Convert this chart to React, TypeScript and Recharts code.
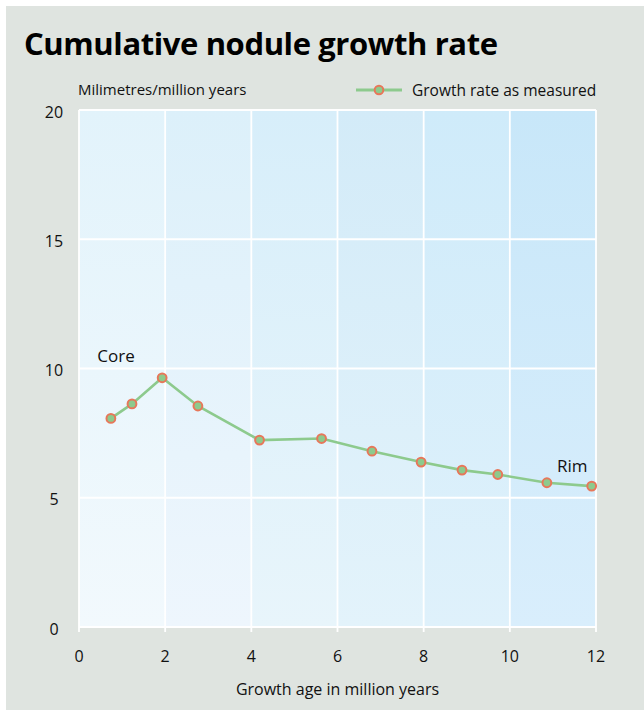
import React from 'react';
import { LineChart, Line, XAxis, YAxis, CartesianGrid, ReferenceArea, ReferenceDot, Label } from 'recharts';

// growth age (million years) and measured growth rate (mm / million years)
const ages = [0.74, 1.23, 1.93, 2.76, 4.19, 5.63, 6.8, 7.94, 8.89, 9.72, 10.86, 11.9];
const rates = [8.07, 8.63, 9.64, 8.55, 7.23, 7.29, 6.8, 6.38, 6.07, 5.9, 5.58, 5.45];

const xTicks = [0, 2, 4, 6, 8, 10, 12];
const yTicks = [0, 5, 10, 15, 20];

// background bands, one per 2 million years
const bandStarts = [0, 2, 4, 6, 8, 10];
const bandEnds = [2, 4, 6, 8, 10, 12];

const annotations = [
    { x: 0.86, y: 10.5, text: 'Core' },
    { x: 11.45, y: 6.23, text: 'Rim' },
];

const bandColors = [
    ['#e2f3fb', '#f2f9fd'],
    ['#dcf0fa', '#eef6fd'],
    ['#d7eefa', '#e8f5fb'],
    ['#d3ebf8', '#e3f3fb'],
    ['#cfebfa', '#dff1fb'],
    ['#c8e7f9', '#d9eefc'],
];

const data = ages.map((a, i) => ({ age: a, rate: rates[i] }));

const FONT = '"Open Sans", sans-serif';
const LINE = '#8dca8d';
const DOT = '#e7775a';

const LegendBox = () => (
    <div style={{ position: 'absolute', left: 349, top: 75, display: 'flex', alignItems: 'center', fontFamily: FONT, fontSize: 15.5, lineHeight: '18px', color: '#111', whiteSpace: 'nowrap' }}>
        <svg width={48} height={12} style={{ marginRight: 9 }}>
            <line x1={1} y1={6} x2={47} y2={6} stroke={LINE} strokeWidth={3} />
            <circle cx={24} cy={6} r={4.3} fill={LINE} stroke={DOT} strokeWidth={2} />
        </svg>
        <span>Growth rate as measured</span>
    </div>
);

export default function App() {
    return (
        <div style={{ position: 'absolute', left: 0, top: 0, width: 644, height: 710, background: '#fff' }}>
            <div style={{ position: 'absolute', left: 6, top: 6, width: 638, height: 704, background: '#dfe4e0' }}>
                <div style={{ position: 'absolute', left: 18, top: 22, fontFamily: FONT, fontWeight: 700, fontSize: 31, lineHeight: '31px', color: '#000', whiteSpace: 'nowrap', letterSpacing: -0.4 }}>
                    Cumulative nodule growth rate
                </div>
                <div style={{ position: 'absolute', left: 72, top: 76, fontFamily: FONT, fontSize: 15, lineHeight: '15px', color: '#111', whiteSpace: 'nowrap' }}>
                    Milimetres/million years
                </div>
                <div style={{ position: 'absolute', left: 0, top: 0 }}>
                    <LineChart width={638} height={704} data={data} margin={{ top: 104, right: 48, left: 33, bottom: 53 }}>
                        <defs>
                            {bandColors.map((c, i) => (
                                <linearGradient key={i} id={`band${i}`} x1="0" y1="0" x2="0" y2="1">
                                    <stop offset="0%" stopColor={c[0]} />
                                    <stop offset="100%" stopColor={c[1]} />
                                </linearGradient>
                            ))}
                        </defs>
                        {bandStarts.map((s, i) => (
                            <ReferenceArea key={i} x1={s} x2={bandEnds[i]} y1={0} y2={20} fill={`url(#band${i})`} fillOpacity={1} stroke="none" zIndex={-200} />
                        ))}
                        <CartesianGrid stroke="#ffffff" strokeWidth={1.8} />
                        <XAxis
                            dataKey="age"
                            type="number"
                            domain={[0, 12]}
                            ticks={xTicks}
                            axisLine={false}
                            tickLine={{ stroke: '#ffffff', strokeWidth: 1.8 }}
                            tickSize={5}
                            tickMargin={19}
                            tick={{ fill: '#111', fontSize: 16, fontFamily: FONT }}
                        >
                            <Label value="Growth age in million years" position="bottom" offset={27} style={{ fill: '#111', fontSize: 16, fontFamily: FONT }} />
                        </XAxis>
                        <YAxis
                            type="number"
                            domain={[0, 20]}
                            ticks={yTicks}
                            width={40}
                            axisLine={false}
                            tickLine={false}
                            tickSize={0}
                            tickMargin={25}
                            tick={{ fill: '#111', fontSize: 16, fontFamily: FONT, textAnchor: 'middle', dy: 2 }}
                        />
                        {annotations.map((a) => (
                            <ReferenceDot key={a.text} x={a.x} y={a.y} r={0} fill="none" stroke="none">
                                <Label value={a.text} position="center" style={{ fill: '#111', fontSize: 17, fontFamily: FONT }} />
                            </ReferenceDot>
                        ))}
                        <Line
                            type="linear"
                            dataKey="rate"
                            stroke={LINE}
                            strokeWidth={2.6}
                            dot={{ r: 4.4, fill: LINE, stroke: DOT, strokeWidth: 2 }}
                            activeDot={false}
                            isAnimationActive={false}
                        />
                    </LineChart>
                </div>
                <LegendBox />
            </div>
        </div>
    );
}
